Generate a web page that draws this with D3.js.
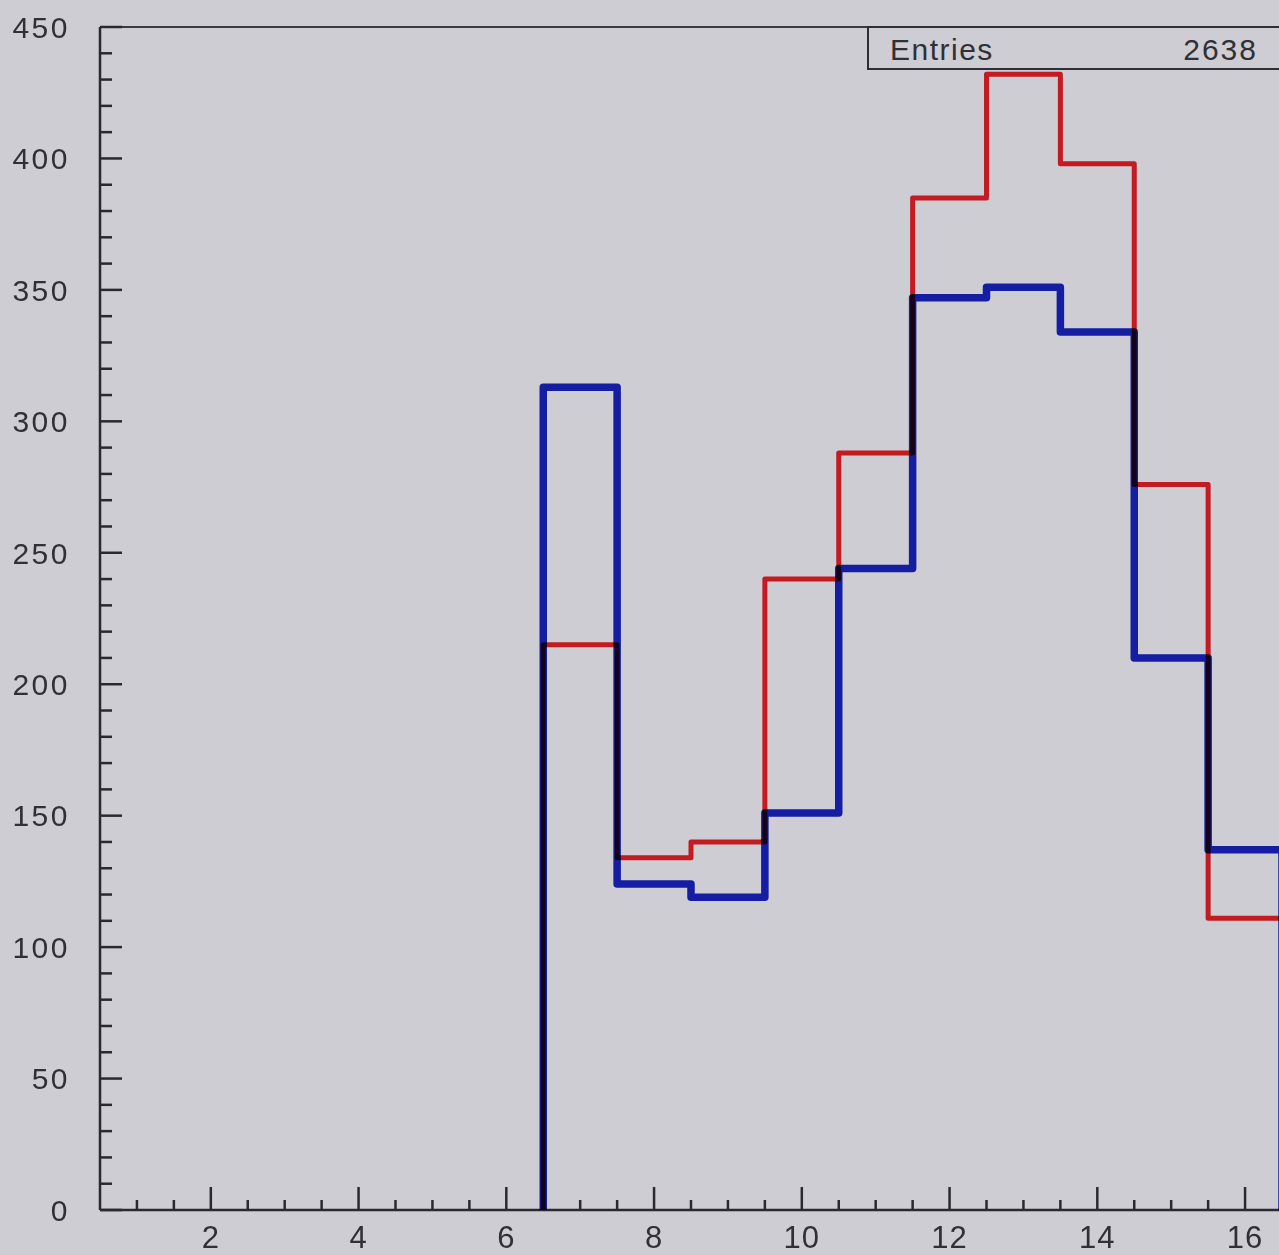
<!DOCTYPE html>
<html>
<head>
<meta charset="utf-8">
<script src="https://cdn.jsdelivr.net/npm/d3@7"></script>
<style>
  html, body { margin: 0; padding: 0; background: #cdcdd3; overflow: hidden; }
  svg { display: block; }
  text { font-family: "Liberation Sans", Arial, sans-serif; fill: #303036; }
</style>
</head>
<body>
<svg id="chart" width="1279" height="1255"></svg>
<script>
// Data (bin centres; bins are 1 unit wide)
const binCenters = [7, 8, 9, 10, 11, 12, 13, 14, 15, 16];
const redValues  = [215, 134, 140, 240, 288, 385, 432, 398, 276, 111];
const blueValues = [313, 124, 119, 151, 244, 347, 351, 334, 210, 137];
const yTickValues = [0, 50, 100, 150, 200, 250, 300, 350, 400, 450];
const xTickValues = [2, 4, 6, 8, 10, 12, 14, 16];
const statLabel = "Entries";
const statValue = "2638";

(function () {
const svg = d3.select("#chart");
const pLeft = 100, pRight = 1282, pTop = 27, pBottom = 1210;

svg.append("rect").attr("width", 1279).attr("height", 1255).attr("fill", "#cdcdd3");

const x = d3.scaleLinear().domain([0.5, 16.5]).range([pLeft, pRight]);
const y = d3.scaleLinear().domain([0, 450]).range([pBottom, pTop]);

// Axis frame
const g = svg.append("g");
g.append("line").attr("x1", pLeft).attr("x2", pLeft).attr("y1", pTop).attr("y2", pBottom)
  .attr("stroke", "#2a2a2e").attr("stroke-width", 2.5);
g.append("line").attr("x1", pLeft).attr("x2", pRight).attr("y1", pBottom).attr("y2", pBottom)
  .attr("stroke", "#2a2a2e").attr("stroke-width", 2.5);
g.append("line").attr("x1", pLeft).attr("x2", pRight).attr("y1", pTop).attr("y2", pTop)
  .attr("stroke", "#3a3a40").attr("stroke-width", 2);

// Y axis ticks (inside), minor every 10
const yMinor = d3.range(0, 451, 10);
g.selectAll(".ytick").data(yMinor).join("line")
  .attr("x1", pLeft).attr("x2", d => pLeft + (d % 50 === 0 ? 22 : 12))
  .attr("y1", d => y(d)).attr("y2", d => y(d))
  .attr("stroke", "#2a2a2e").attr("stroke-width", 2.5);
g.selectAll(".ylab").data(yTickValues).join("text")
  .attr("x", 70).attr("y", d => y(d)).attr("dy", "0.36em")
  .attr("text-anchor", "end").attr("font-size", 30)
  .attr("letter-spacing", 2.5)
  .text(d => d);

// X axis ticks (inside), minor every 0.5
const xMinor = d3.range(1, 16.51, 0.5);
g.selectAll(".xtick").data(xMinor).join("line")
  .attr("x1", d => x(d)).attr("x2", d => x(d))
  .attr("y1", pBottom).attr("y2", d => pBottom - (d % 2 === 0 ? 23 : 10))
  .attr("stroke", "#2a2a2e").attr("stroke-width", 2.5);
g.selectAll(".xlab").data(xTickValues).join("text")
  .attr("x", d => x(d)).attr("y", 1248)
  .attr("text-anchor", "middle").attr("font-size", 31)
  .attr("letter-spacing", 1)
  .text(d => d);

// Histogram step paths
function stepPoints(vals) {
  const pts = [[binCenters[0] - 0.5, 0]];
  vals.forEach((v, i) => {
    pts.push([binCenters[i] - 0.5, v]);
    pts.push([binCenters[i] + 0.5, v]);
  });
  pts.push([binCenters[binCenters.length - 1] + 0.5, 0]);
  return pts;
}
const line = d3.line().x(d => x(d[0])).y(d => y(d[1]));

svg.append("path").attr("d", line(stepPoints(redValues)))
  .attr("fill", "none").attr("stroke", "#c41a22").attr("stroke-width", 5)
  .attr("stroke-linejoin", "round");
svg.append("path").attr("d", line(stepPoints(blueValues)))
  .attr("fill", "none").attr("stroke", "#1a24c4").attr("stroke-width", 7.5)
  .attr("stroke-linejoin", "round")
  .style("mix-blend-mode", "multiply");

// Stats box
const box = svg.append("g");
box.append("rect").attr("x", 868).attr("y", pTop).attr("width", 430).attr("height", 69 - pTop)
  .attr("fill", "#cdcdd3").attr("stroke", "#2e2e34").attr("stroke-width", 2);
box.append("text").attr("x", 890).attr("y", 60).attr("font-size", 30)
  .attr("letter-spacing", 1.5).text(statLabel);
box.append("text").attr("x", 1258).attr("y", 60).attr("font-size", 30)
  .attr("letter-spacing", 2)
  .attr("text-anchor", "end").text(statValue);
})();
</script>
</body>
</html>
